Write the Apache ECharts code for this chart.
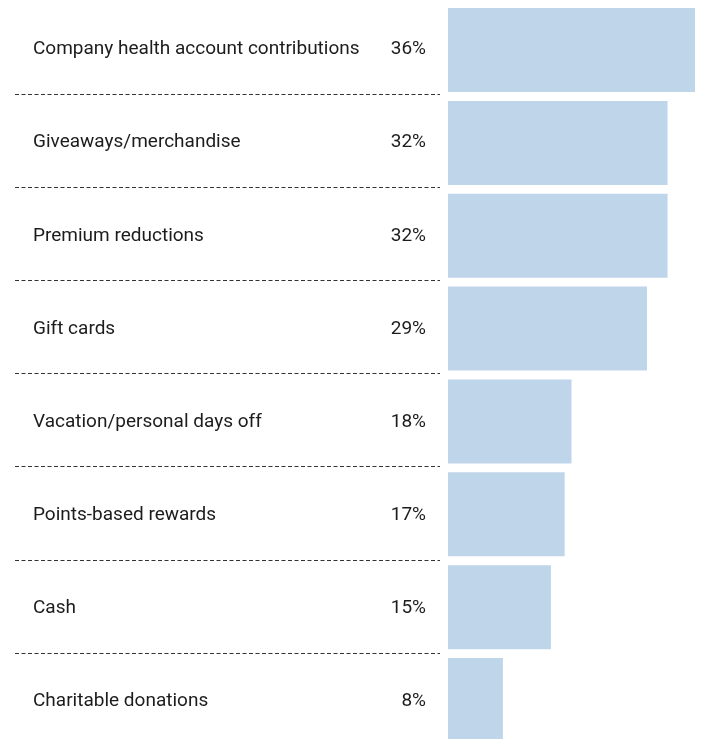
<!DOCTYPE html>
<html>
<head>
<meta charset="utf-8">
<script src="https://cdn.jsdelivr.net/npm/echarts@6/dist/echarts.min.js"></script>
<style>
  html, body { margin: 0; padding: 0; background: #fff; }
  #chart { width: 703px; height: 739px; }
</style>
</head>
<body>
<div id="chart"></div>
<script>
// Incentive types and the share of respondents offering each
const categories = [
  'Company health account contributions',
  'Giveaways/merchandise',
  'Premium reductions',
  'Gift cards',
  'Vacation/personal days off',
  'Points-based rewards',
  'Cash',
  'Charitable donations'
];
const values = [36, 32, 32, 29, 18, 17, 15, 8];

const FONT = 'Roboto';
const TEXT = '#1c1c1c';
const BAR_ROW = 92.86;   // row pitch of the bar column
const TEXT_ROW = 93.17;  // row pitch of the text column and separators

const chart = echarts.init(document.getElementById('chart'), null, { renderer: 'canvas' });

const hiddenCat = {
  type: 'category', data: categories, inverse: true,
  axisLine: { show: false }, axisTick: { show: false }, splitLine: { show: false }
};

// text style shared by names and percentages (top padding nudges glyphs down a little)
const labelRich = {
  t: { fontFamily: FONT, fontSize: 19, color: TEXT, padding: [4, 0, 0, 0] }
};

chart.setOption({
  animation: false,
  backgroundColor: '#ffffff',
  grid: [
    // bars (last row runs past the bottom edge)
    { left: 448, width: 247, top: 3.6, height: BAR_ROW * 8, containLabel: false, outerBoundsMode: 'none' },
    // labels, percentages and dashed separators on the left side
    { left: 15, width: 425, top: 0.83, height: TEXT_ROW * 8, containLabel: false, outerBoundsMode: 'none' }
  ],
  xAxis: [
    { gridIndex: 0, type: 'value', min: 0, max: 36, show: false },
    { gridIndex: 1, type: 'value', min: 0, max: 1, show: false }
  ],
  yAxis: [
    Object.assign({}, hiddenCat, { gridIndex: 0, axisLabel: { show: false } }),
    // category names, drawn inside the left edge of the text column
    Object.assign({}, hiddenCat, {
      gridIndex: 1, position: 'left',
      axisLabel: {
        align: 'left', margin: -18, fontFamily: FONT, fontSize: 19, color: TEXT,
        formatter: (v) => '{t|' + v + '}',
        rich: labelRich
      },
      splitLine: {
        show: true,
        interval: (i) => i > 0,
        lineStyle: { color: '#333333', width: 1, type: [4, 2.5] }
      }
    }),
    // percentages, right-aligned inside the right edge of the text column
    Object.assign({}, hiddenCat, {
      gridIndex: 1, position: 'right',
      axisLabel: {
        align: 'right', margin: -14, fontFamily: FONT, fontSize: 19, color: TEXT,
        formatter: (v, i) => '{t|' + values[i] + '%}',
        rich: labelRich
      }
    })
  ],
  series: [
    {
      type: 'bar', xAxisIndex: 0, yAxisIndex: 0,
      data: values, barWidth: 84,
      itemStyle: { color: '#bfd5ea' },
      silent: true
    }
  ]
});
</script>
</body>
</html>
